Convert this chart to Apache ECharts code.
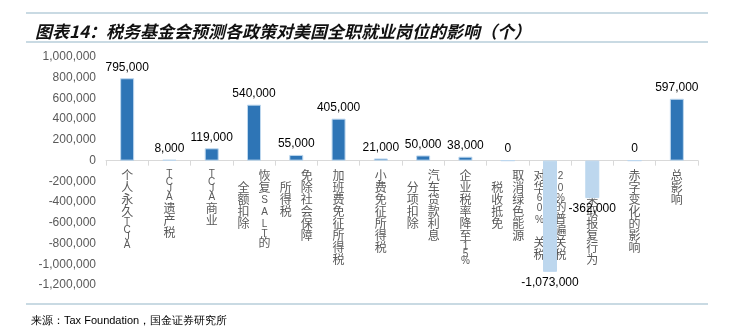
<!DOCTYPE html>
<html>
<head>
<meta charset="utf-8">
<script src="https://cdn.jsdelivr.net/npm/echarts@6/dist/echarts.min.js"></script>
<style>
html,body{margin:0;padding:0;background:#fff;}
#chart{width:733px;height:333px;}
</style>
</head>
<body>
<div id="chart"></div>
<script>
// ---- data ----
const titleText = '图表14：税务基金会预测各政策对美国全职就业岗位的影响（个）';
const sourceText = '来源：Tax Foundation，国金证券研究所';
const categories = [
  '个人永久TCJA',
  'TCJA 遗产税',
  'TCJA 商业',
  '恢复SALT的\n全额扣除',
  '免除社会保障\n所得税',
  '加班费免征所得税',
  '小费免征所得税',
  '汽车贷款利息\n分项扣除',
  '企业税率降至15%',
  '取消绿色能源\n税收抵免',
  '20%的普遍关税\n对华60% 关税',
  '外国采取报复行为',
  '赤字变化的影响',
  '总影响'
];
const jobs = [795000, 8000, 119000, 540000, 55000, 405000, 21000, 50000, 38000, 0, -1073000, -362000, 0, 597000];
const yMin = -1200000;
const yMax = 1000000;
const yStep = 200000;

// ---- helpers ----
const FONT = '"Liberation Sans", "Noto Sans CJK SC", sans-serif';
const fmt = v => Number(v).toLocaleString('en-US');

function tok(ch) {
  if (ch === ' ') return {s: 'sp', t: ' '};
  if (/[\x00-\x7f]/.test(ch)) return {s: 'lat', t: ch};
  return {s: 'cjk', t: ch};
}
function vertical(label) {
  const cols = label.split('\n').map(l => [...l].map(tok));
  const n = Math.max(...cols.map(c => c.length));
  const padded = cols.map(c => {
    const p = Math.floor((n - c.length) / 2);
    return new Array(p).fill(null).concat(c);
  });
  const rows = [];
  for (let i = 0; i < n; i++) {
    const parts = [];
    for (let k = padded.length - 1; k >= 0; k--) {
      const t = padded[k][i];
      parts.push(t ? '{' + t.s + '|' + t.t + '}' : '{e| }');
    }
    rows.push(parts.join(''));
  }
  return rows.join('\n');
}

const chart = echarts.init(document.getElementById('chart'), null, {renderer: 'canvas'});
const lineColor = '#93b6c8';

chart.setOption({
  backgroundColor: '#ffffff',
  animation: false,
  textStyle: {fontFamily: FONT},
  title: {
    text: titleText,
    left: 30,
    top: 18,
    textStyle: {
      fontSize: 17,
      fontWeight: 'bold',
      fontStyle: 'italic',
      color: '#111',
      fontFamily: '"Noto Sans CJK SC", sans-serif'
    }
  },
  graphic: [
    {type: 'line', shape: {x1: 26, y1: 13, x2: 708, y2: 13}, style: {stroke: lineColor, lineWidth: 1.2}},
    {type: 'line', shape: {x1: 26, y1: 42, x2: 708, y2: 42}, style: {stroke: lineColor, lineWidth: 1.2}},
    {type: 'line', shape: {x1: 26, y1: 304, x2: 708, y2: 304}, style: {stroke: lineColor, lineWidth: 1.2}},
    {type: 'text', left: 31, top: 315, style: {text: sourceText, fontSize: 11, fill: '#000',
      font: '11px "DejaVu Sans Mono", "Noto Sans CJK SC", monospace'}}
  ],
  grid: {left: 106, right: 35, top: 57, bottom: 48, containLabel: false, outerBoundsMode: 'none'},
  xAxis: {
    type: 'category',
    data: categories,
    axisLine: {onZero: false, lineStyle: {color: '#d9d9d9', width: 1}},
    axisTick: {show: true, length: 5, lineStyle: {color: '#d9d9d9'}},
    axisLabel: {
      interval: 0,
      margin: 10,
      color: '#595959',
      formatter: v => vertical(v),
      rich: {
        cjk: {fontSize: 12, lineHeight: 12, width: 21, align: 'center', color: '#595959', fontFamily: FONT},
        lat: {fontSize: 10, lineHeight: 7.5, width: 21, align: 'center', color: '#595959', fontFamily: FONT},
        sp: {fontSize: 4, lineHeight: 3, width: 21, align: 'center'},
        e: {fontSize: 4, lineHeight: 1, width: 21, align: 'center'}
      }
    }
  },
  yAxis: {
    type: 'value',
    min: yMin,
    max: yMax,
    interval: yStep,
    splitLine: {show: false},
    axisLine: {show: false},
    axisTick: {show: false},
    axisLabel: {color: '#595959', fontSize: 12, margin: 10, formatter: v => fmt(v)}
  },
  series: [{
    type: 'bar',
    barWidth: 14,
    data: jobs.map(v => ({
      value: v,
      itemStyle: {color: v < 0 ? '#bdd7ee' : '#2e75b6', borderColor: '#bdd7ee', borderWidth: 1},
      label: {position: v < 0 ? 'bottom' : 'top'}
    })),
    label: {
      show: true,
      distance: 5,
      fontSize: 12,
      color: '#000',
      formatter: p => fmt(p.value)
    }
  }]
});

// Move the category axis (line, ticks and labels) up to the zero line.
const zeroY = chart.convertToPixel({yAxisIndex: 0}, 0);
const bottomY = chart.convertToPixel({yAxisIndex: 0}, yMin);
chart.setOption({xAxis: {offset: zeroY - bottomY}});
</script>
</body>
</html>
